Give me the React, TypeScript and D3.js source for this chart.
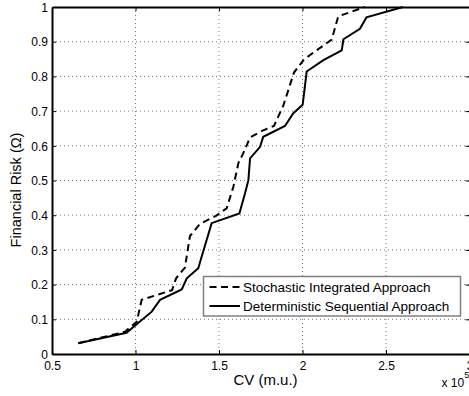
import React, { useEffect, useRef } from "react";
import * as d3 from "d3";

// CV values are in units of 1e5
const stochasticCV = [0.657, 0.937, 1.007, 1.037, 1.127, 1.219, 1.243, 1.296, 1.326, 1.386, 1.482, 1.546, 1.586, 1.616, 1.645, 1.686, 1.757, 1.829, 1.885, 1.949, 2.009, 2.125, 2.175, 2.214, 2.374];
const stochasticRisk = [0.031, 0.064, 0.093, 0.156, 0.17, 0.184, 0.218, 0.249, 0.34, 0.375, 0.398, 0.42, 0.482, 0.55, 0.578, 0.624, 0.643, 0.657, 0.716, 0.811, 0.849, 0.889, 0.906, 0.973, 1.0];

const deterministicCV = [0.657, 0.946, 1.097, 1.147, 1.277, 1.307, 1.376, 1.396, 1.456, 1.622, 1.656, 1.676, 1.686, 1.746, 1.765, 1.895, 1.945, 2.001, 2.025, 2.125, 2.235, 2.245, 2.344, 2.383, 2.602];
const deterministicRisk = [0.031, 0.061, 0.122, 0.156, 0.186, 0.218, 0.247, 0.28, 0.377, 0.405, 0.463, 0.501, 0.564, 0.597, 0.626, 0.657, 0.694, 0.718, 0.814, 0.847, 0.875, 0.907, 0.937, 0.97, 1.0];

const xTicks = [0.5, 1, 1.5, 2, 2.5, 3];
const yTicks = [0, 0.1, 0.2, 0.3, 0.4, 0.5, 0.6, 0.7, 0.8, 0.9, 1];
const legendLabels = ["Stochastic Integrated Approach", "Deterministic Sequential Approach"];

const W = 469;
const H = 396;
const FONT = "'Liberation Sans', Arial, Helvetica, sans-serif";

export default function App() {
  const svgRef = useRef<SVGSVGElement>(null);

  useEffect(() => {
    if (!svgRef.current) return;
    const root = d3.select(svgRef.current);
    root.selectAll("*").remove();

    const margin = { top: 7, right: -0.5, bottom: 42, left: 52 };
    const x = d3.scaleLinear().domain([0.5, 3]).range([margin.left, W - margin.right]);
    const y = d3.scaleLinear().domain([0, 1]).range([H - margin.bottom, margin.top]);
    const [x0, x1] = x.range();
    const [y0, y1] = y.range();

    root.append("rect").attr("width", W).attr("height", H).attr("fill", "#fff");

    // grille pointillée
    const grid = root.append("g");
    xTicks.slice(1, -1).forEach((t) => {
      grid.append("line")
        .attr("x1", x(t)).attr("x2", x(t)).attr("y1", y1).attr("y2", y0)
        .attr("stroke", "#7a7a7a").attr("stroke-width", 1).attr("stroke-dasharray", "1,3");
    });
    yTicks.slice(1, -1).forEach((t) => {
      grid.append("line")
        .attr("x1", x0).attr("x2", x1).attr("y1", y(t)).attr("y2", y(t))
        .attr("stroke", "#7a7a7a").attr("stroke-width", 1).attr("stroke-dasharray", "1,3");
    });

    // courbes
    const line = d3.line<[number, number]>().x((d) => x(d[0])).y((d) => y(d[1]));
    const stoch = stochasticCV.map((v, i) => [v, stochasticRisk[i]] as [number, number]);
    const det = deterministicCV.map((v, i) => [v, deterministicRisk[i]] as [number, number]);

    root.append("path").datum(det)
      .attr("fill", "none").attr("stroke", "#000").attr("stroke-width", 2)
      .attr("d", line);
    root.append("path").datum(stoch)
      .attr("fill", "none").attr("stroke", "#000").attr("stroke-width", 2)
      .attr("stroke-dasharray", "7,4.5")
      .attr("d", line);

    // axes (box)
    const xAxis = root.append("g").attr("transform", `translate(0,${y0})`)
      .call(d3.axisBottom(x).tickValues(xTicks).tickSizeInner(-4).tickSizeOuter(0).tickFormat((d) => String(d)));
    xAxis.select(".domain").attr("stroke", "#000").attr("stroke-width", 2);
    xAxis.selectAll(".tick line").attr("stroke", "#000");
    xAxis.selectAll(".tick text")
      .attr("y", 15.5).attr("dy", null)
      .attr("fill", "#000").attr("font-size", "12px").attr("font-family", FONT);

    const yAxis = root.append("g").attr("transform", `translate(${x0},0)`)
      .call(d3.axisLeft(y).tickValues(yTicks).tickSizeInner(-4).tickSizeOuter(0).tickFormat((d) => String(d)));
    yAxis.select(".domain").attr("stroke", "#000").attr("stroke-width", 2);
    yAxis.selectAll(".tick line").attr("stroke", "#000");
    yAxis.selectAll(".tick text")
      .attr("x", -4).attr("dy", "0.35em")
      .attr("fill", "#000").attr("font-size", "12px").attr("font-family", FONT);

    const topAxis = root.append("g").attr("transform", `translate(0,${y1})`)
      .call(d3.axisTop(x).tickValues(xTicks).tickSizeInner(-4).tickSizeOuter(0).tickFormat(() => ""));
    topAxis.select(".domain").attr("stroke", "#000").attr("stroke-width", 2);
    topAxis.selectAll(".tick line").attr("stroke", "#000");

    const rightAxis = root.append("g").attr("transform", `translate(${x1},0)`)
      .call(d3.axisRight(y).tickValues(yTicks).tickSizeInner(-4).tickSizeOuter(0).tickFormat(() => ""));
    rightAxis.select(".domain").attr("stroke", "#000").attr("stroke-width", 2);
    rightAxis.selectAll(".tick line").attr("stroke", "#000");

    // titres d'axes
    root.append("text")
      .attr("x", 265.5).attr("y", 384.5)
      .attr("text-anchor", "middle")
      .attr("font-size", "15px").attr("font-family", FONT)
      .text("CV (m.u.)");

    const mult = root.append("text")
      .attr("x", 441.5).attr("y", 387)
      .attr("font-size", "12px").attr("font-family", FONT);
    mult.append("tspan").text("x 10");
    mult.append("tspan").attr("font-size", "9px").attr("dy", -9).text("5");

    root.append("text")
      .attr("transform", `translate(21,190) rotate(-90)`)
      .attr("text-anchor", "middle")
      .attr("font-size", "14.5px").attr("font-family", FONT)
      .text("Financial Risk (Ω)");

    // légende
    const lg = root.append("g");
    lg.append("rect")
      .attr("x", 203.5).attr("y", 276.5).attr("width", 257).attr("height", 39.5)
      .attr("fill", "#fff").attr("stroke", "#7f7f7f").attr("stroke-width", 1.5);
    legendLabels.forEach((label, i) => {
      const ly = 287 + i * 19;
      lg.append("line")
        .attr("x1", 209.5).attr("x2", 240).attr("y1", ly).attr("y2", ly)
        .attr("stroke", "#000").attr("stroke-width", 2)
        .attr("stroke-dasharray", i === 0 ? "7,4.5" : null);
      lg.append("text")
        .attr("x", 243).attr("y", ly).attr("dy", "0.35em")
        .attr("font-size", "13.5px").attr("font-family", FONT)
        .text(label);
    });
  }, []);

  return (
    <svg
      ref={svgRef}
      width={W}
      height={H}
      style={{ position: "absolute", left: 0, top: 0, display: "block" }}
    />
  );
}
